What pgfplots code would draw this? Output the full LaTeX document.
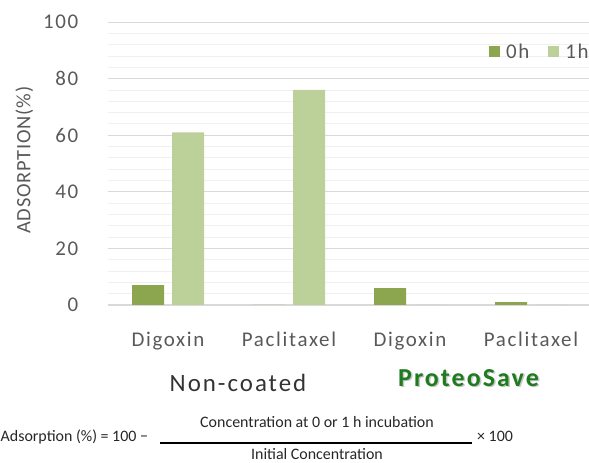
\documentclass[border=0pt]{standalone}
\usepackage{pgfplots}
\pgfplotsset{compat=1.18}
\usepackage{fontspec}
\setmainfont{Carlito}
\newfontfamily\wide[LetterSpace=8]{Carlito}
\newfontfamily\midspace[LetterSpace=4]{Carlito}
\definecolor{dark}{HTML}{8BA64F}
\definecolor{light}{HTML}{BCD19A}
\definecolor{txt}{HTML}{595959}
\definecolor{gridmaj}{HTML}{D9D9D9}
\definecolor{gridmin}{HTML}{F0F0F0}
\definecolor{psgreen}{HTML}{1E7B1E}
\begin{document}
\begin{tikzpicture}[x=1bp,y=1bp]
\useasboundingbox (0,0) rectangle (589,463);
\begin{axis}[
    at={(107.5bp,158bp)}, anchor=south west,
    scale only axis, width=484bp, height=283bp,
    xmin=-0.5, xmax=3.5, ymin=0, ymax=100,
    ybar=8bp, bar width=32bp,
    xtick={0,1,2,3},
    xticklabels={Digoxin,Paclitaxel,Digoxin,Paclitaxel},
    ytick={0,20,...,100}, minor y tick num=4,
    ymajorgrids, yminorgrids,
    major grid style={draw=gridmaj, line width=0.8bp},
    minor grid style={draw=gridmin, line width=0.8bp},
    tick style={draw=none},
    axis x line=bottom, axis y line=left,
    x axis line style={draw=gridmaj, line width=1bp, -},
    y axis line style={draw=none},
    /pgf/number format/assume math mode=true,
    every tick label/.append style={font=\wide\fontsize{21}{25}\selectfont, text=txt},
    yticklabel style={anchor=east, inner sep=0pt, xshift=-27bp},
    xticklabel style={anchor=base, inner sep=0pt, yshift=-39bp},
    ylabel={ADSORPTION(\%)},
    ylabel style={at={(axis description cs:-0.172,0.512)}, anchor=center,
        font=\midspace\fontsize{20.5}{25}\selectfont, text=txt},
    legend style={at={(axis description cs:0.788,0.894)}, anchor=west,
        draw=none, fill=none, legend columns=2, inner sep=0pt,
        font=\wide\fontsize{21}{25}\selectfont, text=txt,
        /tikz/every odd column/.append style={column sep=4bp},
        /tikz/every even column/.append style={column sep=17bp}},
    legend image code/.code={\fill[#1] (0bp,-5.5bp) rectangle (11bp,5.5bp);},
]
\addplot[fill=dark, draw=none] coordinates {(0,7) (1,0) (2,6) (3,1)};
\addlegendentry{0h}
\addplot[fill=light, draw=none] coordinates {(0,61) (1,76) (2,0) (3,0)};
\addlegendentry{1h}
\end{axis}
% group labels
\node[anchor=base, text=black!80, font=\wide\fontsize{25}{30}\selectfont] at (238,71) {Non-coated};
\node[anchor=base, text=black!22, font=\wide\bfseries\fontsize{26}{30}\selectfont] at (470,75) {ProteoSave};
\node[anchor=base, text=psgreen, font=\wide\bfseries\fontsize{26}{30}\selectfont] at (468.5,76) {ProteoSave};
% formula
\begin{scope}[font=\fontsize{16}{19}\selectfont, text=black!85]
\node[anchor=base west, inner sep=0pt] at (0.5,21) {Adsorption (\%) = 100 −};
\node[anchor=base, inner sep=0pt] at (317,35) {Concentration at 0 or 1 h incubation};
\node[anchor=base, inner sep=0pt] at (317,3) {Initial Concentration};
\draw[line width=1.5bp] (160,20) -- (472,20);
\node[anchor=base west, inner sep=0pt] at (477,21) {× 100};
\end{scope}
\end{tikzpicture}
\end{document}
